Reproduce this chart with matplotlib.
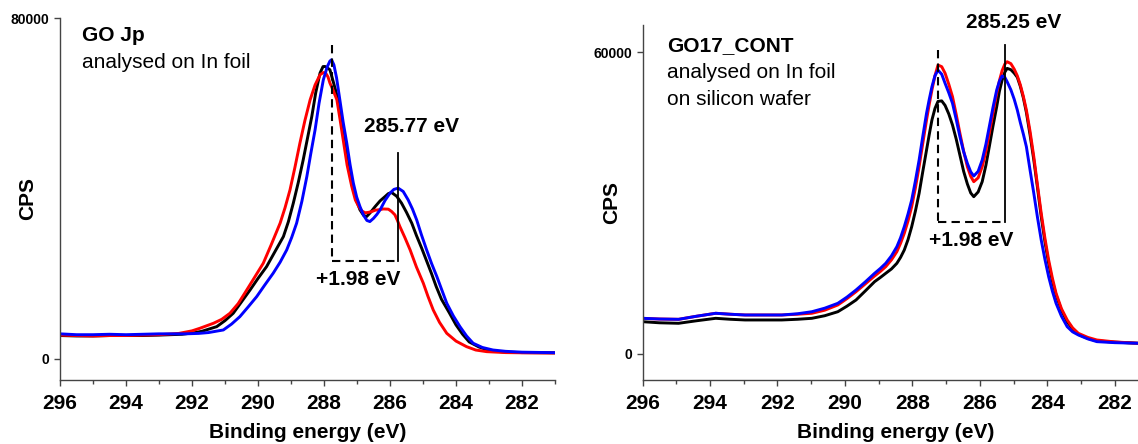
import matplotlib
matplotlib.use("Agg")
import matplotlib.pyplot as plt
from matplotlib.ticker import MultipleLocator

plt.rcParams["font.family"] = ["Liberation Sans", "DejaVu Sans"]

# ---- GO Jp (left panel), C1s spectra ----
jp_red_e = [296.0, 295.5, 295.0, 294.5, 294.0, 293.5, 293.0, 292.4, 292.0, 291.76,
            291.35, 291.1, 290.85, 290.6, 290.34, 290.1, 289.84, 289.6, 289.33, 289.18,
            289.03, 288.88, 288.73, 288.58, 288.42, 288.27, 288.12, 288.02, 287.95, 287.88,
            287.82, 287.72, 287.61, 287.52, 287.42, 287.3, 287.16, 287.05, 286.95, 286.85,
            286.75, 286.65, 286.55, 286.45, 286.35, 286.2, 286.05, 285.95, 285.85, 285.78,
            285.7, 285.55, 285.39, 285.2, 284.99, 284.85, 284.69, 284.5, 284.28, 284.0,
            283.68, 283.4, 283.07, 282.5, 282.0, 281.0]
jp_red_i = [5600, 5500, 5400, 5500, 5500, 5600, 5700, 6000, 6600, 7210,
            8380, 9300, 10730, 13000, 16200, 19200, 22470, 26800, 31860, 35500,
            39680, 45000, 50650, 55900, 60810, 64300, 66680, 67200, 67080, 66200,
            64730, 63000, 60810, 56500, 51500, 45500, 40500, 37300, 35800, 34700,
            34300, 34400, 34600, 34900, 35000, 35200, 35150, 34600, 33810, 32600,
            31060, 28500, 25590, 21600, 17770, 14700, 11500, 8600, 6030, 4200,
            2890, 2100, 1720, 1500, 1450, 1400]

jp_black_e = [296.0, 295.5, 295.0, 294.5, 294.0, 293.5, 293.0, 292.3, 291.9, 291.7,
              291.25, 291.0, 290.75, 290.5, 290.24, 290.0, 289.74, 289.5, 289.23, 289.08,
              288.93, 288.78, 288.63, 288.5, 288.37, 288.25, 288.12, 288.03, 287.97, 287.9,
              287.82, 287.7, 287.57, 287.47, 287.36, 287.26, 287.16, 287.03, 286.91, 286.8,
              286.71, 286.6, 286.45, 286.3, 286.15, 286.05, 285.95, 285.8, 285.65, 285.5,
              285.34, 285.2, 285.04, 284.89, 284.74, 284.6, 284.44, 284.2, 284.0, 283.8,
              283.6, 283.3, 283.0, 282.5, 282.0, 281.0]
jp_black_i = [5500, 5400, 5400, 5500, 5500, 5500, 5600, 5800, 6200, 6500,
              7590, 9000, 10730, 13400, 16200, 18900, 21670, 25000, 28720, 32200,
              36560, 41400, 46730, 51800, 56890, 62500, 67080, 68600, 68630, 68300,
              67860, 64500, 60810, 55700, 50650, 45700, 41250, 37500, 34990, 33700,
              33410, 34300, 35760, 37100, 38110, 38800, 39050, 38200, 36560, 34400,
              31860, 29000, 26000, 23000, 20000, 17000, 14000, 10800, 8000, 5800,
              4000, 2800, 2000, 1600, 1500, 1450]

jp_blue_e = [296.0, 295.5, 295.0, 294.5, 294.0, 293.5, 293.0, 292.2, 291.8, 291.5,
             291.05, 290.8, 290.55, 290.3, 290.04, 289.8, 289.54, 289.33, 289.13, 288.98,
             288.83, 288.67, 288.52, 288.4, 288.27, 288.15, 288.02, 287.9, 287.82, 287.77,
             287.7, 287.62, 287.52, 287.42, 287.31, 287.21, 287.11, 287.01, 286.91, 286.8,
             286.7, 286.61, 286.5, 286.4, 286.3, 286.15, 286.0, 285.88, 285.75, 285.6,
             285.45, 285.32, 285.19, 285.05, 284.89, 284.74, 284.58, 284.43, 284.28, 284.08,
             283.88, 283.68, 283.48, 283.2, 282.88, 282.5, 282.0, 281.0]
jp_blue_i = [5900, 5700, 5700, 5800, 5700, 5800, 5900, 5900, 6000, 6200,
             6810, 8200, 9930, 12200, 14630, 17300, 20120, 22700, 25590, 28500,
             31860, 37000, 42800, 48200, 53770, 60000, 65510, 68600, 69900, 70200,
             69000, 66000, 60810, 55600, 50650, 45600, 41250, 38000, 35760, 33700,
             32500, 32240, 33000, 33900, 34990, 37200, 38910, 39800, 40080, 39300,
             37330, 35200, 32600, 29200, 25590, 22400, 19330, 16200, 13080, 10100,
             7590, 5400, 3690, 2700, 2110, 1800, 1600, 1480]

# ---- GO17_CONT (right panel), one energy scale for the three spectra ----
cont_e = [296.0, 295.5, 294.93, 294.4, 293.83, 293.4, 292.96, 292.4, 291.87, 291.4,
          290.98, 290.6, 290.21, 289.94, 289.67, 289.4, 289.12, 288.95, 288.79, 288.62,
          288.46, 288.35, 288.24, 288.13, 288.02, 287.91, 287.8, 287.69, 287.58, 287.5,
          287.42, 287.33, 287.24, 287.13, 287.03, 286.92, 286.81, 286.7, 286.59, 286.48,
          286.37, 286.27, 286.18, 286.05, 285.93, 285.82, 285.72, 285.61, 285.5, 285.42,
          285.34, 285.26, 285.19, 285.08, 284.98, 284.89, 284.8, 284.71, 284.62, 284.51,
          284.4, 284.29, 284.18, 284.07, 283.96, 283.85, 283.74, 283.58, 283.41, 283.25,
          283.08, 282.8, 282.53, 282.0, 281.3]
cont_red = [7090, 6950, 6890, 7500, 8090, 7900, 7750, 7750, 7750, 7900,
            8090, 8700, 9740, 11000, 12380, 13900, 15500, 16400, 17350, 18700,
            20330, 22000, 23980, 26400, 29270, 33000, 37220, 41900, 46500, 49600,
            52460, 55300, 57420, 57100, 55800, 53600, 51130, 47600, 43850, 40300,
            37220, 35300, 34240, 35000, 37220, 40300, 43850, 47900, 51800, 54300,
            56300, 57600, 58080, 57700, 56600, 55300, 53500, 51200, 48480, 44200,
            39200, 33500, 27960, 23000, 18680, 15100, 12060, 9000, 6760, 5200,
            4110, 3300, 2780, 2400, 2130]
cont_black = [6420, 6200, 6100, 6600, 7090, 6900, 6760, 6760, 6760, 6900,
              7090, 7600, 8400, 9500, 10730, 12500, 14370, 15200, 16030, 16900,
              18020, 19200, 20660, 22700, 25290, 28400, 31930, 36300, 40530, 43600,
              46500, 48800, 50200, 50300, 49400, 47700, 45500, 42700, 39500, 36300,
              33800, 32000, 31260, 32200, 34240, 37500, 41190, 45300, 49140, 52200,
              54400, 56000, 56760, 56500, 55800, 55000, 53200, 50900, 48000, 43500,
              38550, 33000, 27280, 22300, 18020, 14500, 11700, 8700, 6400, 5000,
              3900, 3100, 2600, 2350, 2130]
cont_blue = [7090, 6950, 6890, 7500, 8090, 7900, 7750, 7750, 7750, 8000,
             8400, 9100, 10070, 11300, 12720, 14300, 16030, 17000, 18020, 19500,
             21320, 23100, 25290, 27800, 30600, 34400, 38550, 43300, 47830, 50600,
             53110, 55300, 56400, 55600, 53790, 51900, 49810, 46600, 43180, 40200,
             37890, 36200, 35370, 36300, 38550, 41700, 45170, 49000, 52460, 54200,
             55240, 55000, 54100, 52500, 50600, 48500, 46000, 43700, 41190, 36500,
             31930, 27100, 22650, 18800, 15360, 12500, 10070, 7500, 5420, 4400,
             3780, 3000, 2450, 2250, 2130]

# peak markers: (C-C peak, C-O peak, top of dashed, top of solid, level of bracket)
jp_marks = (285.77, 287.75, 73700, 48300, 23000)
cont_marks = (285.25, 287.23, 60400, 61500, 26300)


def style_axes(ax, ymax):
    ax.set_xlim(296, 281)
    ax.spines["top"].set_visible(False)
    ax.spines["right"].set_visible(False)
    for s in ("left", "bottom"):
        ax.spines[s].set_color("#444444")
        ax.spines[s].set_linewidth(1.0)
    ax.xaxis.set_major_locator(MultipleLocator(2))
    ax.xaxis.set_minor_locator(MultipleLocator(1))
    ax.set_yticks([0, ymax])
    ax.tick_params(axis="x", which="major", length=4, width=1, pad=6,
                   labelsize=15, color="#444444")
    ax.tick_params(axis="x", which="minor", length=3, width=1, color="#444444")
    ax.tick_params(axis="y", length=4.5, width=1, pad=3, labelsize=10, color="#444444")
    for lab in ax.get_xticklabels() + ax.get_yticklabels():
        lab.set_fontweight("bold")
    ax.set_xlabel("Binding energy (eV)", fontsize=15, fontweight="bold", va="center")
    ax.set_ylabel("CPS", fontsize=15, fontweight="bold", va="center")


def draw_marks(ax, marks):
    x_cc, x_co, top_dash, top_solid, low = marks
    ax.plot([x_co, x_co], [top_dash, low], color="black", lw=1.5, ls=(0, (4, 2.5)))
    ax.plot([x_co, x_cc], [low, low], color="black", lw=1.5, ls=(0, (4, 2.5)))
    ax.plot([x_cc, x_cc], [top_solid, low], color="black", lw=1.3)


fig = plt.figure(figsize=(11.38, 4.44), dpi=100)

# left panel
ax1 = fig.add_axes([60 / 1138, 64 / 444, 495 / 1138, 362 / 444])
ax1.plot(jp_black_e, jp_black_i, color="black", lw=2.1)
ax1.plot(jp_red_e, jp_red_i, color="#ff0000", lw=2.1)
ax1.plot(jp_blue_e, jp_blue_i, color="#0000ff", lw=2.1)
ax1.set_ylim(-4930, 80000)
style_axes(ax1, 80000)
draw_marks(ax1, jp_marks)
ax1.text(0.044, 0.952, "GO Jp", transform=ax1.transAxes, fontsize=15,
         fontweight="bold", va="center")
ax1.text(0.044, 0.877, "analysed on In foil", transform=ax1.transAxes, fontsize=15,
         va="center")
ax1.text(285.36, 54500, "285.77 eV", fontsize=15, fontweight="bold",
         ha="center", va="center")
ax1.text(286.96, 18550, "+1.98 eV", fontsize=15, fontweight="bold",
         ha="center", va="center")
ax1.yaxis.set_label_coords(-0.0645, 0.5)
ax1.xaxis.set_label_coords(0.5, -0.146)

# right panel
ax2 = fig.add_axes([642.5 / 1138, 64 / 444, 506 / 1138, 355 / 444])
ax2.plot(cont_e, cont_black, color="black", lw=2.1)
ax2.plot(cont_e, cont_red, color="#ff0000", lw=2.1)
ax2.plot(cont_e, cont_blue, color="#0000ff", lw=2.1)
ax2.set_ylim(-5170, 65380)
style_axes(ax2, 60000)
draw_marks(ax2, cont_marks)
ax2.text(0.048, 0.942, "GO17_CONT", transform=ax2.transAxes, fontsize=15,
         fontweight="bold", va="center")
ax2.text(0.048, 0.866, "analysed on In foil", transform=ax2.transAxes, fontsize=15,
         va="center")
ax2.text(0.048, 0.7915, "on silicon wafer", transform=ax2.transAxes, fontsize=15,
         va="center")
ax2.text(285.0, 65800, "285.25 eV", fontsize=15, fontweight="bold",
         ha="center", va="center")
ax2.text(286.25, 22650, "+1.98 eV", fontsize=15, fontweight="bold",
         ha="center", va="center")
ax2.yaxis.set_label_coords(-0.0603, 0.5)
ax2.xaxis.set_label_coords(0.5, -0.149)

fig.savefig("out.png", dpi=100)
